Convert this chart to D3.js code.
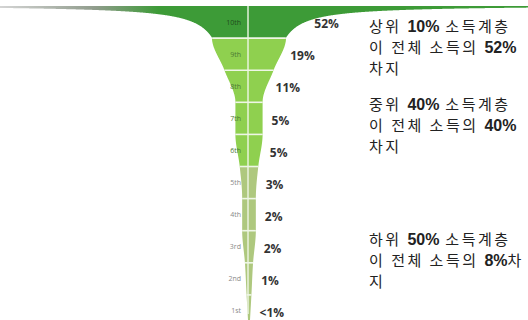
<!DOCTYPE html>
<html>
<head>
<meta charset="utf-8">
<script src="https://cdn.jsdelivr.net/npm/d3@7"></script>
<style>
  html, body { margin: 0; padding: 0; background: #fff; }
  svg { display: block; }
</style>
</head>
<body>
<svg id="chart" width="528" height="320"></svg>
<script>
// Income deciles, top to bottom, with each decile's share of total income (%)
const deciles = ["10th", "9th", "8th", "7th", "6th", "5th", "4th", "3rd", "2nd", "1st"];
const shares = [52, 19, 11, 5, 5, 3, 2, 2, 1, 0.5];
const shareLabels = ["52%", "19%", "11%", "5%", "5%", "3%", "2%", "2%", "1%", "<1%"];
// Group each decile belongs to: top 10%, middle 40%, bottom 50%
const groups = ["top", "mid", "mid", "mid", "mid", "low", "low", "low", "low", "low"];

// Annotation blocks (lines; bold runs marked with **)
const notes = [
  ["상위 **10%** 소득계층", "이 전체 소득의 **52%**", "차지"],
  ["중위 **40%** 소득계층", "이 전체 소득의 **40%**", "차지"],
  ["하위 **50%** 소득계층", "이 전체 소득의 **8%**차", "지"]
];
const noteGroups = ["top", "mid", "low"];

const W = 528, H = 320;
const cx = 249;
const svg = d3.select("#chart");

const fills = { top: "#3d9b37", mid: "#8fd04f", low: "#aec87e" };
const labelInk = { top: "#1f4d1c", mid: "#4c7a34", low: "#8a8a8a" };

// Vertical layout: one band per decile
const y = d3.scaleBand().domain(deciles).range([6, 327]);
const bandTop = (d, i) => (i === 0 ? 0 : y(d));
const bandBottom = (d, i) => (i === deciles.length - 1 ? H : y(d) + y.bandwidth());

// Funnel half-width at the top edge of each decile's band comes from its share
const halfW = d3.scalePow().exponent(0.75).domain([0, shares[1]]).range([0, 37]);

// Outline key points: flaring lip above the second band, then one per band edge
const lipBottom = y(deciles[1]);
const lip = d3.range(6, lipBottom, 0.5).map(yy => ({
  y: yy,
  w: Math.min(700, 687 / Math.max(yy - 5, 0.9) + 16)
}));
const body = deciles.slice(1).map((d, i) => ({ y: y(d), w: halfW(shares[i + 1]) }));
body.push({ y: H, w: 1 });
const keys = lip.concat(body);

// Smooth the body edge with a monotone cubic through the key points
const spline = d3.line().x(d => d.y).y(d => d.w).curve(d3.curveMonotoneX);
const probe = document.createElementNS("http://www.w3.org/2000/svg", "path");
probe.setAttribute("d", spline(keys));
svg.node().appendChild(probe);
const totalLen = probe.getTotalLength();
const samples = [];
for (let s = 0; s <= totalLen; s += 0.5) {
  const p = probe.getPointAtLength(s);
  samples.push({ y: p.x, w: Math.max(0, p.y) });
}
samples.push({ y: H, w: 1 });
probe.remove();

// Half-width at any height
function widthAt(yy) {
  const i = d3.bisector(p => p.y).left(samples, yy);
  if (i <= 0) return samples[0].w;
  if (i >= samples.length) return samples[samples.length - 1].w;
  const a = samples[i - 1], b = samples[i];
  return b.y === a.y ? a.w : a.w + (b.w - a.w) * (yy - a.y) / (b.y - a.y);
}

const area = d3.area()
  .y(d => d.y)
  .x0(d => cx - d.w)
  .x1(d => cx + d.w);

const defs = svg.append("defs");
// Top band fades to grey where the lip thins out at the far left
const grad = defs.append("linearGradient")
  .attr("id", "lipFade")
  .attr("gradientUnits", "userSpaceOnUse")
  .attr("x1", 0).attr("x2", W).attr("y1", 0).attr("y2", 0);
grad.append("stop").attr("offset", 0).attr("stop-color", "#d4d4d4");
grad.append("stop").attr("offset", 0.18).attr("stop-color", "#909c8c");
grad.append("stop").attr("offset", 0.3).attr("stop-color", fills.top);
grad.append("stop").attr("offset", 1).attr("stop-color", fills.top);

// Funnel bands, each cut from the sampled outline
function bandPoints(t, b) {
  const pts = samples.filter(p => p.y > t && p.y < b);
  const first = { y: Math.max(t, samples[0].y), w: widthAt(Math.max(t, samples[0].y)) };
  return [first].concat(pts, [{ y: b, w: widthAt(b) }]);
}
svg.append("g").selectAll("path")
  .data(deciles)
  .join("path")
  .attr("d", (d, i) => area(bandPoints(bandTop(d, i), bandBottom(d, i))))
  .attr("fill", (d, i) => (i === 0 ? "url(#lipFade)" : fills[groups[i]]));

// Separators between bands and the centre rule
const rules = svg.append("g").attr("stroke", "#eef6e6");
deciles.slice(1).forEach(d => {
  const w = widthAt(y(d));
  rules.append("line")
    .attr("x1", cx - w).attr("x2", cx + w)
    .attr("y1", y(d)).attr("y2", y(d))
    .attr("stroke-width", 1.6);
});
rules.append("line")
  .attr("x1", cx - 1).attr("x2", cx - 1)
  .attr("y1", 6).attr("y2", H - 6)
  .attr("stroke-width", 1.4);

// Decile names, left of the centre rule
svg.append("g").selectAll("text")
  .data(deciles)
  .join("text")
  .attr("x", 241)
  .attr("y", d => y(d) + y.bandwidth() / 2)
  .attr("dy", "0.35em")
  .attr("text-anchor", "end")
  .attr("font-family", "'Open Sans', sans-serif")
  .attr("font-size", 7)
  .attr("fill", (d, i) => labelInk[groups[i]])
  .text(d => d);

// Income share labels hugging the right edge of the funnel
svg.append("g").selectAll("text")
  .data(deciles)
  .join("text")
  .attr("x", d => cx + widthAt(y(d) + y.bandwidth() / 2) + 9)
  .attr("y", d => y(d) + y.bandwidth() / 2 + 2)
  .attr("dy", "0.35em")
  .attr("font-family", "'Open Sans', sans-serif")
  .attr("font-weight", 700)
  .attr("font-size", 12)
  .attr("fill", "#333")
  .text((d, i) => shareLabels[i]);

// Annotation blocks
const noteTop = { top: 32, mid: 110, low: 245 };
const notesG = svg.append("g")
  .attr("font-family", "'Noto Sans CJK KR', 'Noto Sans', sans-serif")
  .attr("font-size", 15)
  .attr("letter-spacing", 2.5)
  .attr("fill", "#222");
notes.forEach((lines, b) => {
  lines.forEach((line, li) => {
    const t = notesG.append("text")
      .attr("x", 369)
      .attr("y", noteTop[noteGroups[b]] + li * 21);
    line.split("**").forEach((part, k) => {
      if (!part) return;
      t.append("tspan")
        .attr("font-weight", k % 2 ? 700 : 400)
        .attr("font-size", k % 2 ? 16 : null)
        .attr("letter-spacing", k % 2 ? 0 : null)
        .attr("font-family", k % 2 ? "Arial, 'Liberation Sans', sans-serif" : null)
        .text(part);
    });
  });
});
</script>
</body>
</html>
